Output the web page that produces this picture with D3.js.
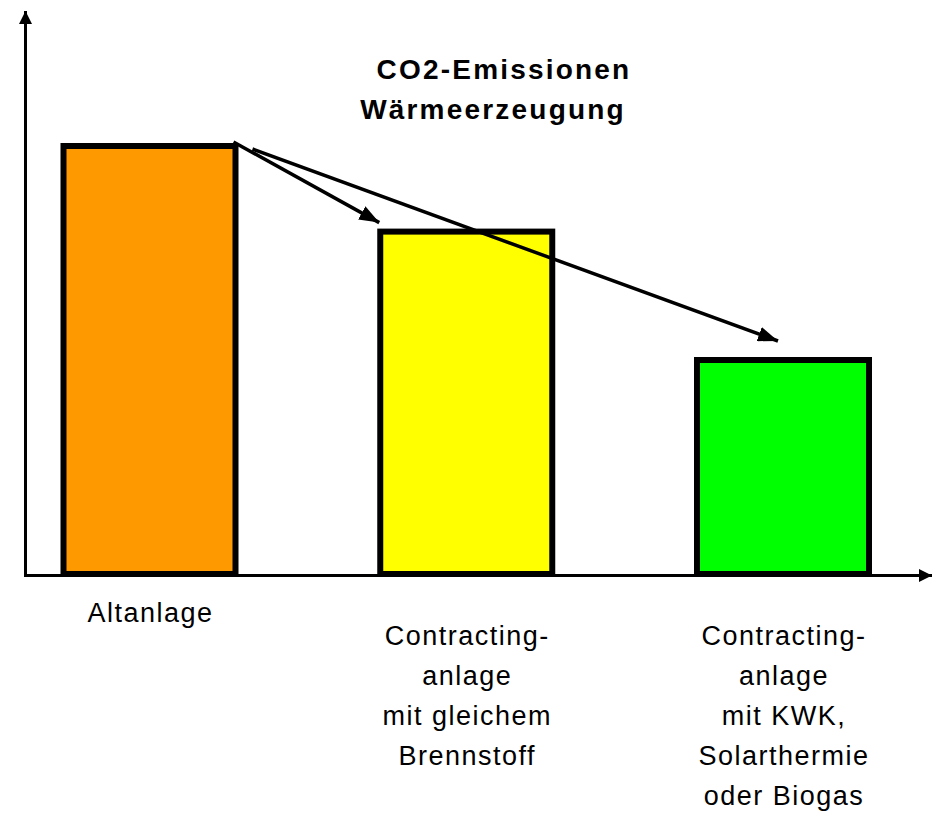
<!DOCTYPE html>
<html>
<head>
<meta charset="utf-8">
<script src="https://cdnjs.cloudflare.com/ajax/libs/d3/7.8.5/d3.min.js"></script>
<style>
    html, body { margin: 0; padding: 0; background: #fff; }
    svg { display: block; }
    text { font-family: "Liberation Sans", Arial, sans-serif; fill: #000; }
</style>
</head>
<body>
<div id="chart"></div>
<script>
// chart data
var categories = ["Altanlage", "Contracting-anlage gleich", "Contracting-anlage KWK"];
var values = [100, 80, 50]; // relative CO2 emissions
var barColors = ["#ff9900", "#ffff00", "#00ff00"];
var labelLines = [
    ["Altanlage"],
    ["Contracting-", "anlage", "mit gleichem", "Brennstoff"],
    ["Contracting-", "anlage", "mit KWK,", "Solarthermie", "oder Biogas"]
];
var titleLines = ["CO2-Emissionen", "Wärmeerzeugung"];

var width = 932, height = 818;
var barWidth = 172;

var svg = d3.select('#chart').append('svg')
    .attr('width', width)
    .attr('height', height);

// scales
var x = d3.scalePoint()
    .domain(categories)
    .range([149.5, 783]);
var y = d3.scaleLinear()
    .domain([0, 100])
    .range([574, 146]);

// arrow heads: small one for the axes, bigger one for the annotations
var defs = svg.append('defs');
function addHead(id, len, wid) {
    defs.append('marker')
        .attr('id', id)
        .attr('viewBox', '0 0 ' + len + ' ' + wid)
        .attr('refX', len).attr('refY', wid / 2)
        .attr('markerWidth', len).attr('markerHeight', wid)
        .attr('markerUnits', 'userSpaceOnUse')
        .attr('orient', 'auto')
      .append('path')
        .attr('d', 'M0,0 L' + len + ',' + wid / 2 + ' L0,' + wid + ' Z')
        .attr('fill', '#000');
}
addHead('axisHead', 13, 13);
addHead('head', 20, 15);

// axes (plain lines with arrow heads, no ticks)
var axisX = 25.5, axisY = 575.5;
svg.append('line')
    .attr('x1', axisX).attr('y1', axisY + 1.5)
    .attr('x2', axisX).attr('y2', 11)
    .attr('stroke', '#000').attr('stroke-width', 3)
    .attr('marker-end', 'url(#axisHead)');
svg.append('line')
    .attr('x1', axisX - 1.5).attr('y1', axisY)
    .attr('x2', 932).attr('y2', axisY)
    .attr('stroke', '#000').attr('stroke-width', 3)
    .attr('marker-end', 'url(#axisHead)');

// bars
svg.append('g').selectAll('rect')
    .data(values)
    .enter().append('rect')
    .attr('x', (d, i) => x(categories[i]) - barWidth / 2)
    .attr('y', d => y(d))
    .attr('width', barWidth)
    .attr('height', d => y(0) - y(d))
    .attr('fill', (d, i) => barColors[i])
    .attr('stroke', '#000')
    .attr('stroke-width', 6);

// arrows from the old plant to the new ones
var arrows = [
    { from: 0, to: 1, sx: -2, sy: -4, ex: -1, ey: -9 },
    { from: 0, to: 2, sx: 17, sy: 3, ex: 81, ey: -19 }
];
svg.append('g').selectAll('line')
    .data(arrows)
    .enter().append('line')
    .attr('x1', a => x(categories[a.from]) + barWidth / 2 + a.sx)
    .attr('y1', a => y(values[a.from]) + a.sy)
    .attr('x2', a => x(categories[a.to]) - barWidth / 2 + a.ex)
    .attr('y2', a => y(values[a.to]) + a.ey)
    .attr('stroke', '#000')
    .attr('stroke-width', 3.5)
    .attr('marker-end', 'url(#head)');

// title
svg.append('g').selectAll('text')
    .data(titleLines)
    .enter().append('text')
    .attr('x', (d, i) => i === 0 ? 504 : 493)
    .attr('y', (d, i) => 79 + i * 40)
    .attr('text-anchor', 'middle')
    .style('font-size', '28px')
    .style('font-weight', 'bold')
    .style('letter-spacing', '2.2px')
    .text(d => d);

// category labels
var labels = svg.append('g').selectAll('g')
    .data(labelLines)
    .enter().append('g');
labels.selectAll('text')
    .data((d, i) => d.map(t => ({ t: t, i: i })))
    .enter().append('text')
    .attr('x', d => x(categories[d.i]) + 1)
    .attr('y', (d, j) => (d.i === 0 ? 622 : 645) + j * 40)
    .attr('text-anchor', 'middle')
    .style('font-size', '27px')
    .style('letter-spacing', '1.5px')
    .text(d => d.t);
</script>
</body>
</html>
